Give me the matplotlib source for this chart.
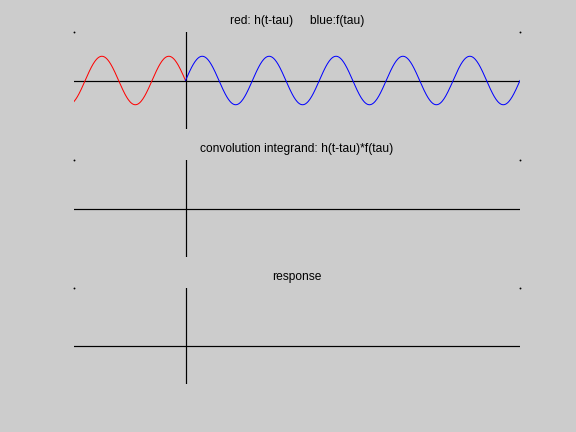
import numpy as np
import matplotlib
matplotlib.use('Agg')
import matplotlib.pyplot as plt

plt.rcParams['font.family'] = ['Liberation Sans', 'DejaVu Sans']

# convolution snapshot at t = 0
t_now = 0.0
period = 3.0
tau_min, tau_max = -5.0, 15.0
ylims = [(-2, 2), (-2, 2), (-2, 3)]
titles = ['red: h(t-tau)     blue:f(tau)',
          'convolution integrand: h(t-tau)*f(tau)',
          'response']

tau_f = np.linspace(0, tau_max, 600)
f_vals = np.sin(2 * np.pi * tau_f / period)
tau_h = np.linspace(tau_min, t_now, 200)
h_vals = np.sin(2 * np.pi * (t_now - tau_h) / period)

fig = plt.figure(figsize=(8, 6), dpi=72, facecolor='#cccccc')
positions = [[0.1285, 0.7014, 0.7743, 0.2245],
             [0.1285, 0.4051, 0.7743, 0.2245],
             [0.1285, 0.1111, 0.7743, 0.2222]]

axes = []
for pos, yl, title in zip(positions, ylims, titles):
    ax = fig.add_axes(pos)
    ax.set_facecolor('#cccccc')
    ax.set_xlim(tau_min, tau_max)
    ax.set_ylim(*yl)
    ax.axhline(0, color='black', lw=1.2)
    ax.axvline(t_now, color='black', lw=1.2)
    ax.plot([tau_min, tau_max], [yl[1], yl[1]], ls='none', marker='s',
            ms=0.8, color='black', clip_on=False)
    ax.set_title(title, fontsize=12, pad=8.5)
    ax.axis('off')
    axes.append(ax)

axes[0].plot(tau_h, h_vals, color='red', lw=1)
axes[0].plot(tau_f, f_vals, color='blue', lw=1)

fig.savefig('out.png', dpi=72, facecolor='#cccccc')
